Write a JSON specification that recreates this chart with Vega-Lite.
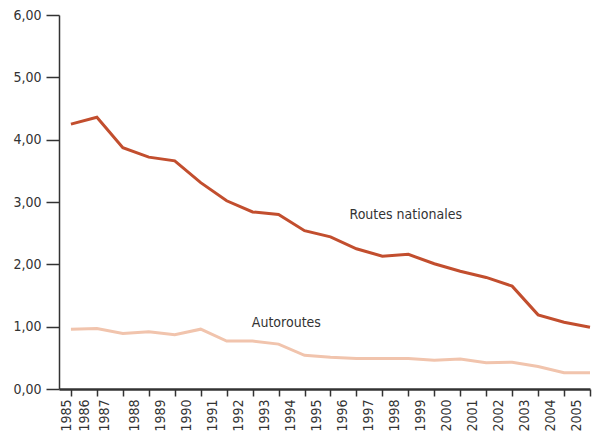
{
  "$schema": "https://vega.github.io/schema/vega-lite/v6.json",
  "width": 531,
  "height": 374,
  "autosize": "none",
  "padding": {"left": 59, "top": 15, "right": 6, "bottom": 50},
  "background": "white",
  "config": {
    "view": {"stroke": null},
    "font": "DejaVu Sans Condensed, sans-serif"
  },
  "datasets": {
    "series": [
      {"annee": 1985, "reseau": "Routes nationales", "valeur": 4.25},
      {"annee": 1986, "reseau": "Routes nationales", "valeur": 4.36},
      {"annee": 1987, "reseau": "Routes nationales", "valeur": 3.87},
      {"annee": 1988, "reseau": "Routes nationales", "valeur": 3.72},
      {"annee": 1989, "reseau": "Routes nationales", "valeur": 3.66},
      {"annee": 1990, "reseau": "Routes nationales", "valeur": 3.31},
      {"annee": 1991, "reseau": "Routes nationales", "valeur": 3.02},
      {"annee": 1992, "reseau": "Routes nationales", "valeur": 2.84},
      {"annee": 1993, "reseau": "Routes nationales", "valeur": 2.80},
      {"annee": 1994, "reseau": "Routes nationales", "valeur": 2.54},
      {"annee": 1995, "reseau": "Routes nationales", "valeur": 2.44},
      {"annee": 1996, "reseau": "Routes nationales", "valeur": 2.25},
      {"annee": 1997, "reseau": "Routes nationales", "valeur": 2.13},
      {"annee": 1998, "reseau": "Routes nationales", "valeur": 2.16},
      {"annee": 1999, "reseau": "Routes nationales", "valeur": 2.01},
      {"annee": 2000, "reseau": "Routes nationales", "valeur": 1.89},
      {"annee": 2001, "reseau": "Routes nationales", "valeur": 1.79},
      {"annee": 2002, "reseau": "Routes nationales", "valeur": 1.65},
      {"annee": 2003, "reseau": "Routes nationales", "valeur": 1.19},
      {"annee": 2004, "reseau": "Routes nationales", "valeur": 1.07},
      {"annee": 2005, "reseau": "Routes nationales", "valeur": 0.99},
      {"annee": 1985, "reseau": "Autoroutes", "valeur": 0.96},
      {"annee": 1986, "reseau": "Autoroutes", "valeur": 0.97},
      {"annee": 1987, "reseau": "Autoroutes", "valeur": 0.89},
      {"annee": 1988, "reseau": "Autoroutes", "valeur": 0.92},
      {"annee": 1989, "reseau": "Autoroutes", "valeur": 0.87},
      {"annee": 1990, "reseau": "Autoroutes", "valeur": 0.96},
      {"annee": 1991, "reseau": "Autoroutes", "valeur": 0.77},
      {"annee": 1992, "reseau": "Autoroutes", "valeur": 0.77},
      {"annee": 1993, "reseau": "Autoroutes", "valeur": 0.72},
      {"annee": 1994, "reseau": "Autoroutes", "valeur": 0.54},
      {"annee": 1995, "reseau": "Autoroutes", "valeur": 0.51},
      {"annee": 1996, "reseau": "Autoroutes", "valeur": 0.49},
      {"annee": 1997, "reseau": "Autoroutes", "valeur": 0.49},
      {"annee": 1998, "reseau": "Autoroutes", "valeur": 0.49},
      {"annee": 1999, "reseau": "Autoroutes", "valeur": 0.46},
      {"annee": 2000, "reseau": "Autoroutes", "valeur": 0.48},
      {"annee": 2001, "reseau": "Autoroutes", "valeur": 0.42},
      {"annee": 2002, "reseau": "Autoroutes", "valeur": 0.43},
      {"annee": 2003, "reseau": "Autoroutes", "valeur": 0.36},
      {"annee": 2004, "reseau": "Autoroutes", "valeur": 0.26},
      {"annee": 2005, "reseau": "Autoroutes", "valeur": 0.26}
    ],
    "etiquettes": [
      {"annee": 1997.9, "valeur": 2.79, "texte": "Routes nationales"},
      {"annee": 1993.3, "valeur": 1.06, "texte": "Autoroutes"}
    ]
  },
  "layer": [
    {
      "data": {"name": "series"},
      "mark": {"type": "line", "strokeWidth": 3, "strokeCap": "butt", "strokeJoin": "miter"},
      "encoding": {
        "x": {
          "field": "annee",
          "type": "quantitative",
          "scale": {"domain": [1984.54, 2005], "nice": false, "zero": false},
          "axis": {
            "title": null,
            "grid": false,
            "values": [1985, 1986, 1987, 1988, 1989, 1990, 1991, 1992, 1993, 1994, 1995, 1996, 1997, 1998, 1999, 2000, 2001, 2002, 2003, 2004, 2005],
            "tickCount": 40,
            "format": "d",
            "labelAngle": 270,
            "labelAlign": "right",
            "labelBaseline": "middle",
            "labelFontSize": 14,
            "labelColor": "#333333",
            "labelPadding": 3,
            "labelOverlap": false,
            "labelFlush": false,
            "labelOffset": {"condition": [
              {"test": "datum.value == 1985", "value": -4},
              {"test": "datum.value == 1986", "value": -12},
              {"test": "datum.value == 1987", "value": -18}
            ], "value": -14},
            "tickSize": 7,
            "tickWidth": 1.5,
            "tickColor": "#333333",
            "domainColor": "#333333",
            "domainWidth": 2.5
          }
        },
        "y": {
          "field": "valeur",
          "type": "quantitative",
          "scale": {"domain": [0, 6], "nice": false},
          "axis": {
            "title": null,
            "grid": false,
            "values": [0, 1, 2, 3, 4, 5, 6],
            "labelExpr": "replace(format(datum.value, '.2f'), '.', ',')",
            "labelFontSize": 14,
            "labelColor": "#333333",
            "labelPadding": 5,
            "tickSize": 13,
            "tickWidth": 1.5,
            "tickColor": "#333333",
            "domainColor": "#333333",
            "domainWidth": 1.5
          }
        },
        "color": {
          "field": "reseau",
          "type": "nominal",
          "scale": {"domain": ["Routes nationales", "Autoroutes"], "range": ["#c24e2e", "#f1c4ad"]},
          "legend": null
        }
      }
    },
    {
      "data": {"name": "etiquettes"},
      "mark": {"type": "text", "fontSize": 14, "color": "#333333", "align": "center", "baseline": "middle"},
      "encoding": {
        "x": {"field": "annee", "type": "quantitative"},
        "y": {"field": "valeur", "type": "quantitative"},
        "text": {"field": "texte"}
      }
    }
  ]
}
